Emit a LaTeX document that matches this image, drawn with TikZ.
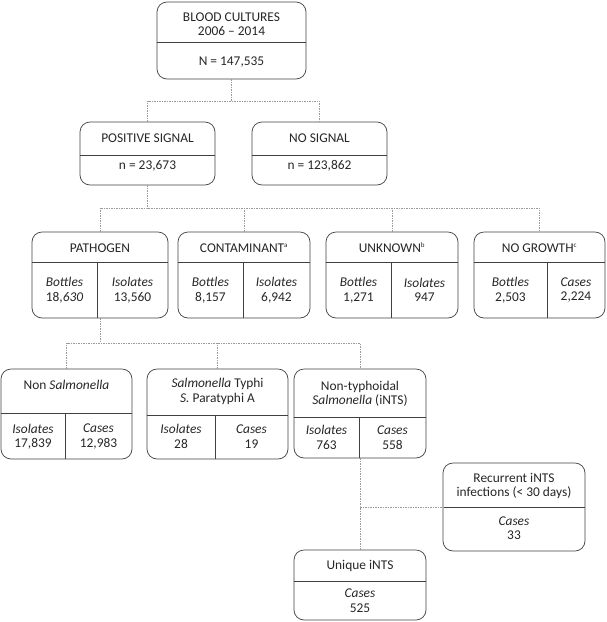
\documentclass[tikz,border=0pt]{standalone}
\usepackage{fontspec}
\setmainfont{Carlito}
\definecolor{boxc}{HTML}{404040}
\definecolor{textc}{HTML}{262626}
\definecolor{connc}{HTML}{9A9A9A}
\begin{document}
\begin{tikzpicture}[x=1pt,y=-1pt,
 box/.style={draw=boxc, line width=0.7pt, rounded corners=10pt, inner sep=0pt},
 divl/.style={draw=boxc, line width=0.7pt},
 conn/.style={draw=connc, line width=0.6pt, dash pattern=on 1.5pt off 1pt},
 txt/.style={font=\fontsize{13.4}{14.5}\selectfont, align=center, inner sep=0pt, text=textc}]
\useasboundingbox (0,0) rectangle (606,622);

% ---- boxes ----
\node[box, minimum width=149pt, minimum height=77pt] (top) at (231.5,40.5) {};
\node[box, minimum width=135pt, minimum height=63pt] (pos) at (147.5,153.5) {};
\node[box, minimum width=135pt, minimum height=63pt] (nos) at (319.5,153.5) {};
\node[box, minimum width=136pt, minimum height=86pt] (path) at (100,275) {};
\node[box, minimum width=132pt, minimum height=86pt] (cont) at (244,275) {};
\node[box, minimum width=132pt, minimum height=86pt] (unk) at (392,275) {};
\node[box, minimum width=131pt, minimum height=86pt] (nog) at (539.5,275) {};
\node[box, minimum width=131pt, minimum height=90pt] (nons) at (66.5,414) {};
\node[box, minimum width=141pt, minimum height=90pt] (typ) at (217.5,414) {};
\node[box, minimum width=132pt, minimum height=89pt] (nts) at (360,413.5) {};
\node[box, minimum width=142pt, minimum height=88pt] (rec) at (514,507) {};
\node[box, minimum width=132pt, minimum height=70pt] (uniq) at (360,585) {};

% ---- dividers ----
\draw[divl] (top.west |- 0,42) -- (top.east |- 0,42);
\draw[divl] (pos.west |- 0,155) -- (pos.east |- 0,155);
\draw[divl] (nos.west |- 0,155) -- (nos.east |- 0,155);
\draw[divl] (path.west |- 0,262) -- (path.east |- 0,262);
\draw[divl] (97,262) -- (path.south -| 97,0);
\draw[divl] (cont.west |- 0,262) -- (cont.east |- 0,262);
\draw[divl] (243,262) -- (cont.south -| 243,0);
\draw[divl] (unk.west |- 0,262) -- (unk.east |- 0,262);
\draw[divl] (391,262) -- (unk.south -| 391,0);
\draw[divl] (nog.west |- 0,262) -- (nog.east |- 0,262);
\draw[divl] (547,262) -- (nog.south -| 547,0);
\draw[divl] (nons.west |- 0,413) -- (nons.east |- 0,413);
\draw[divl] (65,413) -- (nons.south -| 65,0);
\draw[divl] (typ.west |- 0,415) -- (typ.east |- 0,415);
\draw[divl] (215,415) -- (typ.south -| 215,0);
\draw[divl] (nts.west |- 0,417) -- (nts.east |- 0,417);
\draw[divl] (359,417) -- (nts.south -| 359,0);
\draw[divl] (rec.west |- 0,507) -- (rec.east |- 0,507);
\draw[divl] (uniq.west |- 0,581) -- (uniq.east |- 0,581);

% ---- texts ----
\node[txt] (t1) at (231.5,24) {BLOOD CULTURES\\2006 -- 2014};
\node[txt] (t2) at (231.5,62) {N = 147,535};
\node[txt] (t3) at (147.5,138) {POSITIVE SIGNAL};
\node[txt] (t4) at (147.5,166) {n = 23,673};
\node[txt] (t5) at (319.5,138) {NO SIGNAL};
\node[txt] (t6) at (319.5,166) {n = 123,862};

\node[txt] (t7) at (100,248) {PATHOGEN};
\node[txt] (t8) at (64.5,290) {\textit{Bottles}\\18,\textit{630}};
\node[txt] (t9) at (132.5,290) {\textit{Isolates}\\13,560};
\node[txt] (t10) at (244,248) {CONTAMINANT\textsuperscript{\scriptsize a}};
\node[txt] (t11) at (210.5,290) {\textit{Bottles}\\8,157};
\node[txt] (t12) at (276.5,290) {\textit{Isolates}\\6,942};
\node[txt] (t13) at (392,248) {UNKNOWN\textsuperscript{\scriptsize b}};
\node[txt] (t14) at (358.5,290) {\textit{Bottles}\\1,271};
\node[txt] (t15) at (424.5,290) {\textit{Isolates}\\947};
\node[txt] (t16) at (539.5,248) {NO GROWTH\textsuperscript{\scriptsize c}};
\node[txt] (t17) at (510.5,290) {\textit{Bottles}\\2,503};
\node[txt] (t18) at (576,290) {\textit{Cases}\\2,224};

\node[txt] (t19) at (66.5,385) {Non \textit{Salmonella}};
\node[txt] (t20) at (33,436.5) {\textit{Isolates}\\17,839};
\node[txt] (t21) at (98.5,436.5) {\textit{Cases}\\12,983};
\node[txt] (t22) at (217.5,391.5) {\textit{Salmonella} Typhi\\\textit{S.} Paratyphi A};
\node[txt] (t23) at (181,436.5) {\textit{Isolates}\\28};
\node[txt] (t24) at (251.5,436.5) {\textit{Cases}\\19};
\node[txt] (t25) at (360,394) {Non-typhoidal\\\textit{Salmonella} (iNTS)};
\node[txt] (t26) at (326.5,437.5) {\textit{Isolates}\\763};
\node[txt] (t27) at (392.5,437.5) {\textit{Cases}\\558};
\node[txt] (t28) at (514,486) {Recurrent iNTS\\infections (< 30 days)};
\node[txt] (t29) at (514,528) {\textit{Cases}\\33};
\node[txt] (t30) at (360,566) {Unique iNTS};
\node[txt] (t31) at (360,600.5) {\textit{Cases}\\525};

% ---- connectors ----
\coordinate (j1) at (231.5,101);
\draw[conn] (top.south) -- (j1);
\draw[conn] (pos.north) |- (j1) -| (nos.north);
\coordinate (j2) at (147.5,208);
\draw[conn] (pos.south) -- (j2);
\draw[conn] (path.north) |- (j2) -| (nog.north);
\draw[conn] (cont.north) -- (cont.north |- j2);
\draw[conn] (unk.north) -- (unk.north |- j2);
\coordinate (j3) at (100,343);
\draw[conn] (path.south) -- (j3);
\draw[conn] (nons.north) |- (j3) -| (nts.north);
\draw[conn] (typ.north) -- (typ.north |- j3);
\coordinate (j4) at (360,507);
\draw[conn] (nts.south) -- (j4) -- (uniq.north);
\draw[conn] (j4) -- (rec.west);
\end{tikzpicture}
\end{document}
